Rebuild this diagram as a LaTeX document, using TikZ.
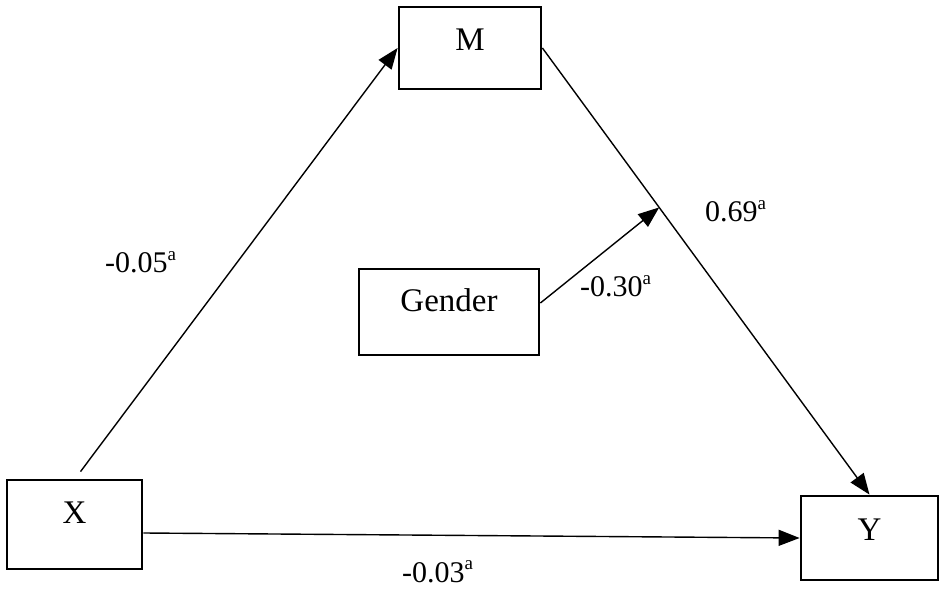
\documentclass[tikz,border=0pt]{standalone}
\usepackage{fontspec}
\setmainfont{Liberation Serif}
\usetikzlibrary{arrows.meta}
\newcommand{\supa}{\raisebox{0.42em}{\fontsize{19}{20}\selectfont a}}
\tikzset{
  boxnode/.style={draw, line width=2.8pt, inner sep=0pt, text height=22pt,
    font=\fontsize{33}{38}\selectfont},
  conn/.style={line width=1.4pt, -{Triangle[length=21pt,width=16pt]}},
  coef/.style={inner sep=0pt, anchor=base west, font=\fontsize{30}{34}\selectfont}
}
\begin{document}
\begin{tikzpicture}[x=1pt,y=-1pt]
\useasboundingbox (0,0) rectangle (945,593);
\node[boxnode, minimum width=142pt, minimum height=82pt, text depth=16pt] (M) at (470,48) {M};
\node[boxnode, minimum width=135pt, minimum height=89pt, text depth=25pt] (X) at (74.5,524.5) {X};
\node[boxnode, minimum width=137pt, minimum height=84pt, text depth=18pt] (Y) at (869.5,538) {Y};
\node[boxnode, minimum width=180pt, minimum height=86pt, text depth=22pt] (G) at (449,312) {Gender};
\path (M.east) -- (Y.north) coordinate[pos=0.357] (mid);
\draw[conn] ([xshift=6pt,yshift=7pt]X.north) -- (M.west);
\draw[conn] (M.east) -- (Y.north);
\draw[conn] ([yshift=9pt]G.east) -- (mid);
\draw[conn] ([yshift=-8.5pt]X.east) -- (Y.west);
\node[coef] (lxm) at (105,273) {-0.05\supa};
\node[coef] (lmy) at (705,222) {0.69\supa};
\node[coef] (lg) at (580,297) {-0.30\supa};
\node[coef] (lxy) at (402,582) {-0.03\supa};
\end{tikzpicture}
\end{document}
